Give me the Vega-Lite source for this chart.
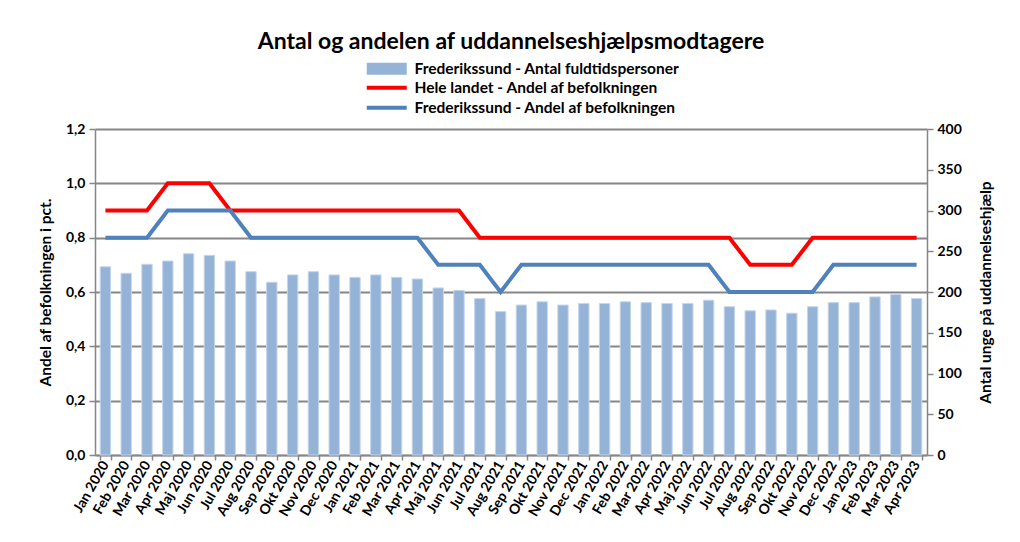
{
  "$schema": "https://vega.github.io/schema/vega-lite/v6.json",
  "width": 832,
  "height": 326,
  "autosize": {"type": "none"},
  "padding": {"left": 95, "top": 129, "right": 93, "bottom": 87},
  "background": "white",
  "title": {
    "text": "Antal og andelen af uddannelseshjælpsmodtagere",
    "font": "Lato",
    "fontSize": 23,
    "fontWeight": "bold",
    "color": "#000000",
    "anchor": "middle",
    "frame": "group",
    "offset": 7
  },
  "config": {
    "view": {"stroke": null},
    "font": "Lato",
    "axis": {
      "labelFont": "Lato",
      "labelFontWeight": "bold",
      "labelColor": "#000000",
      "titleFont": "Lato",
      "titleFontWeight": "bold",
      "titleColor": "#000000",
      "domainColor": "#868686",
      "tickColor": "#868686",
      "domainWidth": 1.5,
      "tickWidth": 1.5
    }
  },
  "data": {
    "values": [
      {"month": "Jan 2020", "antal": 231, "hele": 0.9, "fred": 0.8},
      {"month": "Feb 2020", "antal": 223, "hele": 0.9, "fred": 0.8},
      {"month": "Mar 2020", "antal": 234, "hele": 0.9, "fred": 0.8},
      {"month": "Apr 2020", "antal": 238, "hele": 1.0, "fred": 0.9},
      {"month": "Maj 2020", "antal": 247, "hele": 1.0, "fred": 0.9},
      {"month": "Jun 2020", "antal": 245, "hele": 1.0, "fred": 0.9},
      {"month": "Jul 2020", "antal": 238, "hele": 0.9, "fred": 0.9},
      {"month": "Aug 2020", "antal": 225, "hele": 0.9, "fred": 0.8},
      {"month": "Sep 2020", "antal": 212, "hele": 0.9, "fred": 0.8},
      {"month": "Okt 2020", "antal": 221, "hele": 0.9, "fred": 0.8},
      {"month": "Nov 2020", "antal": 225, "hele": 0.9, "fred": 0.8},
      {"month": "Dec 2020", "antal": 221, "hele": 0.9, "fred": 0.8},
      {"month": "Jan 2021", "antal": 218, "hele": 0.9, "fred": 0.8},
      {"month": "Feb 2021", "antal": 221, "hele": 0.9, "fred": 0.8},
      {"month": "Mar 2021", "antal": 218, "hele": 0.9, "fred": 0.8},
      {"month": "Apr 2021", "antal": 216, "hele": 0.9, "fred": 0.8},
      {"month": "Maj 2021", "antal": 205, "hele": 0.9, "fred": 0.7},
      {"month": "Jun 2021", "antal": 202, "hele": 0.9, "fred": 0.7},
      {"month": "Jul 2021", "antal": 192, "hele": 0.8, "fred": 0.7},
      {"month": "Aug 2021", "antal": 176, "hele": 0.8, "fred": 0.6},
      {"month": "Sep 2021", "antal": 184, "hele": 0.8, "fred": 0.7},
      {"month": "Okt 2021", "antal": 188, "hele": 0.8, "fred": 0.7},
      {"month": "Nov 2021", "antal": 184, "hele": 0.8, "fred": 0.7},
      {"month": "Dec 2021", "antal": 186, "hele": 0.8, "fred": 0.7},
      {"month": "Jan 2022", "antal": 186, "hele": 0.8, "fred": 0.7},
      {"month": "Feb 2022", "antal": 188, "hele": 0.8, "fred": 0.7},
      {"month": "Mar 2022", "antal": 187, "hele": 0.8, "fred": 0.7},
      {"month": "Apr 2022", "antal": 186, "hele": 0.8, "fred": 0.7},
      {"month": "Maj 2022", "antal": 186, "hele": 0.8, "fred": 0.7},
      {"month": "Jun 2022", "antal": 190, "hele": 0.8, "fred": 0.7},
      {"month": "Jul 2022", "antal": 182, "hele": 0.8, "fred": 0.6},
      {"month": "Aug 2022", "antal": 177, "hele": 0.7, "fred": 0.6},
      {"month": "Sep 2022", "antal": 178, "hele": 0.7, "fred": 0.6},
      {"month": "Okt 2022", "antal": 174, "hele": 0.7, "fred": 0.6},
      {"month": "Nov 2022", "antal": 182, "hele": 0.8, "fred": 0.6},
      {"month": "Dec 2022", "antal": 187, "hele": 0.8, "fred": 0.7},
      {"month": "Jan 2023", "antal": 187, "hele": 0.8, "fred": 0.7},
      {"month": "Feb 2023", "antal": 194, "hele": 0.8, "fred": 0.7},
      {"month": "Mar 2023", "antal": 197, "hele": 0.8, "fred": 0.7},
      {"month": "Apr 2023", "antal": 192, "hele": 0.8, "fred": 0.7}
    ]
  },
  "encoding": {
    "x": {
      "field": "month",
      "type": "nominal",
      "sort": null,
      "scale": {"paddingInner": 0.5, "paddingOuter": 0.25},
      "axis": {
        "title": null,
        "labelAngle": -60,
        "labelFontSize": 14,
        "tickBand": "extent",
        "tickSize": 5,
        "labelPadding": 2
      }
    }
  },
  "layer": [
    {
      "mark": {"type": "bar", "color": "#95b3d7", "stroke": "#c6d7ec", "strokeWidth": 1},
      "encoding": {
        "y": {
          "field": "antal",
          "type": "quantitative",
          "scale": {"domain": [0, 400]},
          "axis": {
            "orient": "right",
            "title": "Antal unge på uddannelseshjælp",
            "values": [0, 50, 100, 150, 200, 250, 300, 350, 400],
            "grid": false,
            "labelFontSize": 14,
            "tickSize": 6,
            "labelPadding": 4,
            "titleFontSize": 15.5,
            "titleAngle": 270,
            "titleBaseline": "top",
            "titlePadding": 17
          }
        },
        "fill": {
          "datum": "Frederikssund - Antal fuldtidspersoner",
          "scale": {"range": ["#95b3d7"]},
          "legend": {
            "orient": "none",
            "legendX": 284,
            "legendY": -68,
            "title": null,
            "padding": 0,
            "symbolType": "M-4,-1.2L4,-1.2L4,1.2L-4,1.2Z",
            "symbolSize": 100,
            "symbolStrokeWidth": 0,
            "labelFont": "Lato",
            "labelFontSize": 15.5,
            "labelFontWeight": "bold",
            "labelColor": "#000000",
            "labelOffset": 20,
            "labelLimit": 500
          }
        }
      }
    },
    {
      "layer": [
        {
          "mark": {"type": "line", "strokeWidth": 4},
          "encoding": {
            "y": {"field": "hele", "type": "quantitative"},
            "stroke": {"datum": "Hele landet - Andel af befolkningen"}
          }
        },
        {
          "mark": {"type": "line", "strokeWidth": 4},
          "encoding": {
            "y": {"field": "fred", "type": "quantitative"},
            "stroke": {"datum": "Frederikssund - Andel af befolkningen"}
          }
        }
      ],
      "encoding": {
        "y": {
          "type": "quantitative",
          "scale": {"domain": [0, 1.2]},
          "axis": {
            "orient": "left",
            "title": "Andel af befolkningen i pct.",
            "values": [0, 0.2, 0.4, 0.6, 0.8, 1.0, 1.2],
            "labelExpr": "replace(format(datum.value, '.1f'), '.', ',')",
            "grid": true,
            "gridColor": "#868686",
            "gridWidth": 2,
            "labelFontSize": 14,
            "tickSize": 6,
            "labelPadding": 4,
            "titleFontSize": 15.5,
            "titlePadding": 12
          }
        },
        "stroke": {
          "scale": {
            "domain": ["Hele landet - Andel af befolkningen", "Frederikssund - Andel af befolkningen"],
            "range": ["#ff0000", "#4f81bd"]
          },
          "legend": {
            "orient": "none",
            "legendX": 284,
            "legendY": -49,
            "title": null,
            "padding": 0,
            "symbolType": "M-4,0L4,0",
            "symbolSize": 100,
            "symbolStrokeWidth": 4,
            "rowPadding": 2,
            "labelFont": "Lato",
            "labelFontSize": 15.5,
            "labelFontWeight": "bold",
            "labelColor": "#000000",
            "labelOffset": 20,
            "labelLimit": 500
          }
        }
      }
    }
  ],
  "resolve": {"scale": {"y": "independent"}}
}
